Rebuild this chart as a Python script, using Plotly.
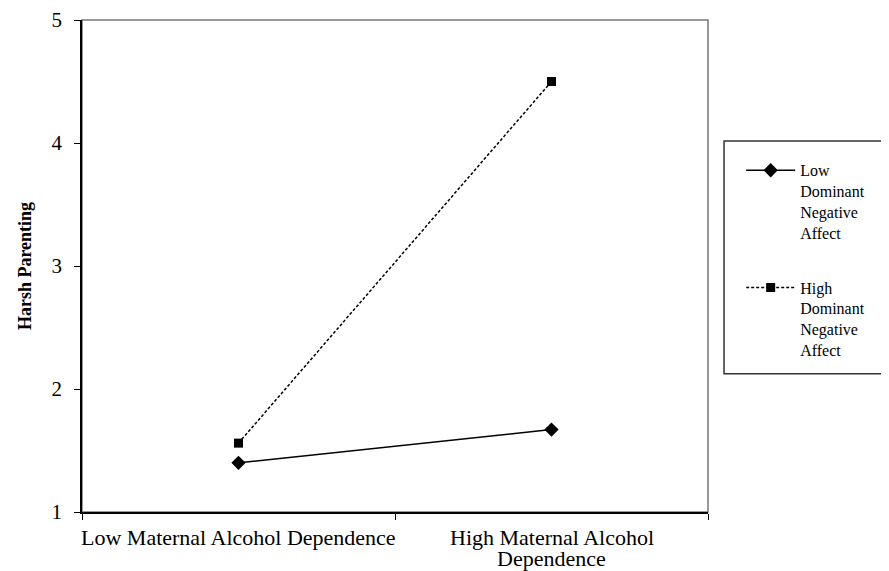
import plotly.graph_objects as go

categories = ["Low Maternal Alcohol Dependence", "High Maternal Alcohol<br>Dependence"]
low_dna = [1.40, 1.67]
high_dna = [1.56, 4.50]
series_names = ["Low<br>Dominant<br>Negative<br>Affect", "High<br>Dominant<br>Negative<br>Affect"]
y_ticks = [1, 2, 3, 4, 5]

FONT = "Liberation Serif, Times New Roman, serif"

fig = go.Figure()
fig.add_trace(go.Scatter(
    x=categories, y=low_dna, name=series_names[0], mode="lines+markers",
    line=dict(color="black", width=1.5),
    marker=dict(symbol="diamond", size=11, color="black"),
    legendgroup="a",
))
fig.add_trace(go.Scatter(
    x=categories, y=high_dna, name=series_names[1], mode="lines+markers",
    line=dict(color="black", width=1.5, dash="3px,2px"),
    marker=dict(symbol="square", size=9, color="black"),
    legendgroup="b",
))

# plot-area frame (grey) and legend box
fig.add_shape(type="rect", xref="paper", yref="paper", x0=0, x1=1, y0=0, y1=1,
              line=dict(color="#777", width=1.5), layer="below")
fig.add_shape(type="rect", xref="paper", yref="paper", x0=1.0256, x1=1.30, y0=0.281, y1=0.754,
              line=dict(color="#333", width=1.5), layer="below")

# category labels with tight line spacing (as in the reference)
for cat in categories:
    for i, line in enumerate(cat.split("<br>")):
        fig.add_annotation(
            x=cat, xref="x", y=0, yref="paper", text=line, showarrow=False,
            xanchor="center", yanchor="middle", yshift=-25 - 21 * i,
            font=dict(family=FONT, size=22, color="black"),
        )

fig.update_layout(
    width=889, height=571,
    margin=dict(l=74, r=189, t=12, b=67, autoexpand=False),
    paper_bgcolor="white", plot_bgcolor="white",
    font=dict(family=FONT, size=19, color="black"),
    showlegend=True,
    legend=dict(
        x=1.053, y=0.729, xanchor="left", yanchor="top",
        font=dict(family=FONT, size=16, color="black"),
        valign="top", traceorder="grouped", tracegroupgap=31,
        bgcolor="rgba(0,0,0,0)", itemwidth=49,
    ),
    xaxis=dict(
        type="category", tickson="boundaries", ticks="outside", ticklen=6,
        range=[-0.5, 1.5], automargin=False, showticklabels=False,
        tickcolor="black", showline=True, linecolor="black", linewidth=1.5,
        showgrid=False, zeroline=False,
    ),
    yaxis=dict(
        range=[1, 5], tickvals=y_ticks, ticks="outside", ticklen=6,
        automargin=False,
        tickcolor="black", showline=True, linecolor="black", linewidth=1.5,
        showgrid=False, zeroline=False, ticklabelstandoff=8,
        tickfont=dict(family=FONT, size=21),
        title=dict(text="<b>Harsh Parenting</b>", font=dict(family=FONT, size=18)),
    ),
)

fig.write_html("out.html")
